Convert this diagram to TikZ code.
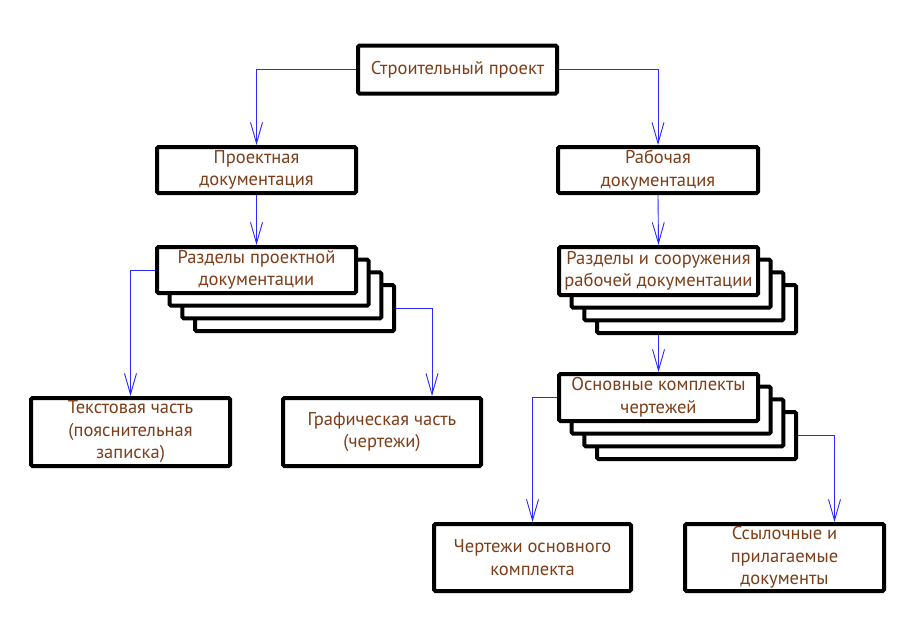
\documentclass[tikz,border=0pt]{standalone}
\usepackage{fontspec}
\setmainfont{PT Sans}
\usetikzlibrary{arrows.meta,calc}
\definecolor{txt}{RGB}{125,62,25}
\definecolor{ln}{RGB}{40,40,255}
\tikzset{
  box/.style={draw=black, line width=4pt, fill=white, rounded corners=1.5pt,
    align=center, text=txt, font=\fontsize{18.5}{22.5}\selectfont, inner sep=1pt},
  conn/.style={draw=ln, line width=0.9pt, -{Straight Barb[length=21pt,width=12pt,line width=0.9pt]}},
}
\begin{document}
\begin{tikzpicture}[x=1pt,y=-1pt]
\useasboundingbox (0,0) rectangle (900,640);
% top
\node[box, minimum width=199pt, minimum height=48pt] (top) at (457.5,69.5) {Строительный проект};
\node[box, minimum width=199pt, minimum height=46pt] (pd) at (256.5,170) {Проектная\\документация};
\node[box, minimum width=200pt, minimum height=46pt] (rd) at (658,170) {Рабочая\\документация};
% stacked left
\foreach \k in {3,2,1} {
  \node[box, minimum width=199pt, minimum height=46pt] (rp\k) at ({256.5+12.7*\k},{270+12.7*\k}) {};
}
\node[box, minimum width=199pt, minimum height=46pt] (rp) at (256.5,270) {Разделы проектной\\документации};
% stacked right 1
\foreach \k in {3,2,1} {
  \node[box, minimum width=199pt, minimum height=48pt] (rr\k) at ({658.5+12.7*\k},{271+12.7*\k}) {};
}
\node[box, minimum width=199pt, minimum height=48pt] (rr) at (658.5,271) {Разделы и сооружения\\рабочей документации};
% stacked right 2
\foreach \k in {3,2,1} {
  \node[box, minimum width=199pt, minimum height=47pt] (ok\k) at ({658.5+12.7*\k},{397.5+12.7*\k}) {};
}
\node[box, minimum width=199pt, minimum height=47pt] (ok) at (658.5,397.5) {Основные комплекты\\чертежей};
% leaves
\node[box, minimum width=199pt, minimum height=68pt] (tc) at (130.5,432) {Текстовая часть\\(пояснительная\\записка)};
\node[box, minimum width=198pt, minimum height=68pt] (gc) at (382,432) {Графическая часть\\(чертежи)};
\node[box, minimum width=197pt, minimum height=67pt] (ch) at (532.5,557.5) {Чертежи основного\\комплекта};
\node[box, minimum width=199pt, minimum height=67pt] (ss) at (784.5,557.5) {Ссылочные и\\прилагаемые\\документы};
% connectors
\draw[conn] (top.west) -| (pd.north);
\draw[conn] (top.east) -| (rd.north);
\draw[conn] (pd.south) -- (rp.north);
\draw[conn] (rd.south) -- (rr.north);
\draw[conn] (rp.west) -| (tc.north);
\draw[conn] (rp3.east) -| ($(gc.north)+(50,0)$);
\draw[conn] (rr.south |- rr3.south) -- (ok.north);
\draw[conn] (ok.west) -| (ch.north);
\draw[conn] (ok3.east) -| ($(ss.north)+(50,0)$);
\end{tikzpicture}
\end{document}
